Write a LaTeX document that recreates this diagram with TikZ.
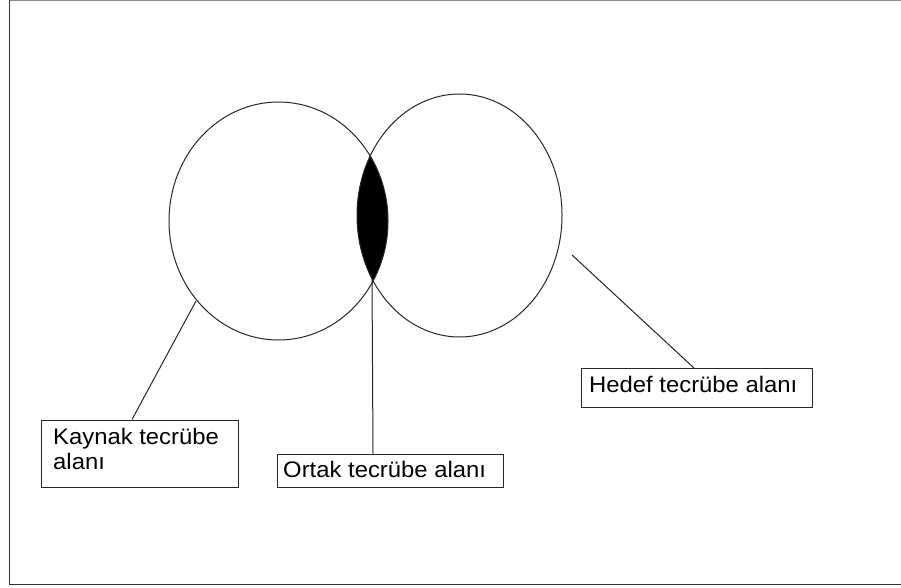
\documentclass[tikz,border=0pt]{standalone}
\usepackage{fontspec}
\setmainfont{Liberation Sans}[FakeStretch=1.06]
\begin{document}
\begin{tikzpicture}[x=1pt,y=-1pt,
  outline/.style={line width=1pt, draw=black!85},
  lbox/.style={draw=black!85, line width=1pt, fill=white, inner sep=0pt, anchor=north west},
  ltext/.style={anchor=base west, inner sep=0pt, font=\fontsize{22.5pt}{25pt}\selectfont},
  lead/.style={line width=1pt, draw=black!85}]
\useasboundingbox (0,0) rectangle (901,588);
% frame
\draw[line width=1pt, black!45] (9.5,0.5) -- (901,0.5);
\draw[line width=1pt, black!80] (901,584.5) -- (9.5,584.5) -- (9.5,0.5);
% lens
\begin{scope}
  \clip (278.5,221) ellipse [x radius=109.5, y radius=119];
  \fill[black] (459.5,215.5) ellipse [x radius=102.5, y radius=121.5];
\end{scope}
% circles
\draw[outline] (278.5,221) ellipse [x radius=109.5, y radius=119];
\draw[outline] (459.5,215.5) ellipse [x radius=102.5, y radius=121.5];
% boxes
\node[lbox, minimum width=197pt, minimum height=67pt] (kbox) at (41,419.5) {};
\node[lbox, minimum width=226pt, minimum height=33pt] (obox) at (277,453.5) {};
\node[lbox, minimum width=231pt, minimum height=39pt] (hbox) at (581,368) {};
% texts
\node[ltext] (kt1) at (53,444) {Kaynak tecrübe};
\node[ltext] (kt2) at (53,469) {alanı};
\node[ltext] (ot) at (283,477) {Ortak tecrübe alanı};
\node[ltext] (ht) at (589,392) {Hedef tecrübe alanı};
% leader lines
\coordinate (kstart) at (196,301);
\coordinate (kfoot) at (132,419.5);
\coordinate (ostart) at (372,278);
\coordinate (ofoot) at (373,453.5);
\coordinate (hstart) at (572,255);
\coordinate (hfoot) at (694,368);
\draw[lead] (kstart) -- (kfoot);
\draw[lead] (ostart) -- (ofoot);
\draw[lead] (hstart) -- (hfoot);
\end{tikzpicture}
\end{document}
